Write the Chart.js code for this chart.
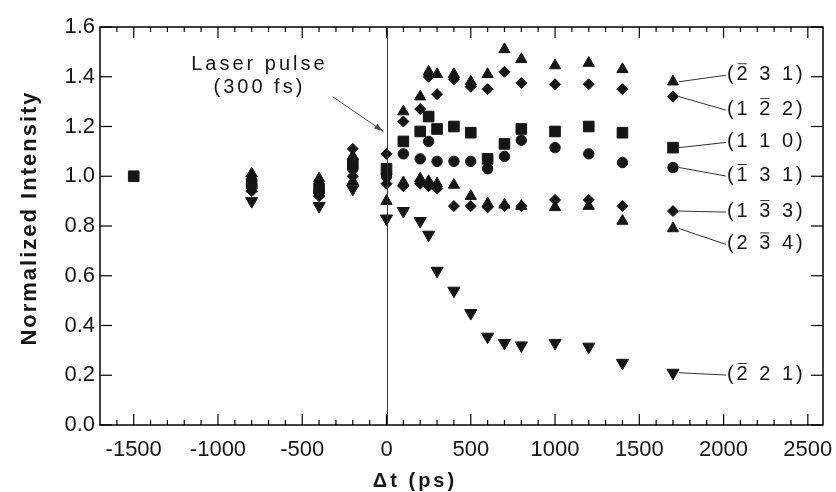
<!DOCTYPE html>
<html>
<head>
<meta charset="utf-8">
<script src="https://cdn.jsdelivr.net/npm/chart.js@4.4.1/dist/chart.umd.min.js"></script>
<style>
  html, body { margin: 0; padding: 0; background: #fff; }
  #wrap { width: 836px; height: 492px; position: relative; }
</style>
</head>
<body>
<div id="wrap"><canvas id="chart"></canvas></div>
<script>
// delay times (ps)
const times = [-1500, -800, -400, -200, 0, 100, 200, 250, 300, 400, 500, 600, 700, 800, 1000, 1200, 1400, 1700];

// normalized intensity per reflection (null = no point)
const r231  = [null, 1.01, 0.99, 1.08, 1.02, 1.26, 1.32, 1.42, 1.41, 1.41, 1.38, 1.41, 1.51, 1.47, 1.445, 1.455, 1.43, 1.38];
const r122  = [null, 1.00, 0.98, 1.11, 1.09, 1.22, 1.27, 1.40, 1.33, 1.39, 1.36, 1.35, 1.42, 1.375, 1.37, 1.37, 1.35, 1.32];
const r110  = [1.00, 0.97, 0.95, 1.05, 1.03, 1.14, 1.18, 1.24, 1.19, 1.20, 1.175, 1.07, 1.13, 1.19, 1.18, 1.20, 1.175, 1.115];
const r131  = [null, 0.96, 0.94, 1.03, 1.00, 1.09, 1.07, 1.14, 1.06, 1.06, 1.06, 1.03, 1.08, 1.145, 1.115, 1.09, 1.055, 1.035];
const r1m33 = [null, 0.94, 0.92, 1.00, 0.97, 0.96, 0.97, 0.96, 0.95, 0.88, 0.88, 0.875, 0.88, 0.88, 0.905, 0.905, 0.88, 0.86];
const r2m34 = [null, 0.95, 0.93, 0.98, 0.90, 0.975, 0.99, 0.98, 0.97, 0.965, 0.92, 0.89, 0.885, 0.88, 0.875, 0.88, 0.82, 0.79];
const r221  = [null, 0.90, 0.88, 0.95, 0.83, 0.86, 0.82, 0.765, 0.62, 0.54, 0.45, 0.355, 0.33, 0.32, 0.33, 0.315, 0.25, 0.21];

// axis range and ticks
const xMin = -1700, xMax = 2590;
const yMin = 0, yMax = 1.6;
const xTicks = [-1500, -1000, -500, 0, 500, 1000, 1500, 2000, 2500];
const yTicks = [0, 0.2, 0.4, 0.6, 0.8, 1.0, 1.2, 1.4, 1.6];
const xMinorStep = 100;

// labels on the right: text, index of the overlined digit, label height
const labelNames = ['(2 3 1)', '(1 2 2)', '(1 1 0)', '(1 3 1)', '(1 3 3)', '(2 3 4)', '(2 2 1)'];
const labelBars  = [1, 3, -1, 1, 3, 3, 1];
const labelY     = [1.41, 1.27, 1.14, 1.005, 0.86, 0.73, 0.205];
const labelX = 2020;

const series = [
  { values: r231,  style: 'triangle', rot: 0,   r: 6.5 },
  { values: r122,  style: 'rectRot',  rot: 0,   r: 5.5 },
  { values: r110,  style: 'rect',     rot: 0,   r: 7.5 },
  { values: r131,  style: 'circle',   rot: 0,   r: 5.2 },
  { values: r1m33, style: 'rectRot',  rot: 0,   r: 5.5 },
  { values: r2m34, style: 'triangle', rot: 0,   r: 6.5 },
  { values: r221,  style: 'triangle', rot: 180, r: 7 }
];

const FONT = '"Liberation Sans", Arial, Helvetica, sans-serif';
const INK = '#151515';
const AXIS = '#000';

function toPoints(vals) {
  const pts = [];
  vals.forEach((v, i) => { if (v !== null) pts.push({ x: times[i], y: v }); });
  return pts;
}

function line(ctx, x1, y1, x2, y2) {
  ctx.beginPath();
  ctx.moveTo(x1, y1);
  ctx.lineTo(x2, y2);
  ctx.stroke();
}

function drawFrame(chart) {
  const { ctx, scales: { x, y } } = chart;
  const L = x.getPixelForValue(xMin), R = x.getPixelForValue(xMax);
  const T = y.getPixelForValue(yMax), B = y.getPixelForValue(yMin);
  ctx.save();
  ctx.strokeStyle = AXIS;
  ctx.lineWidth = 1.5;
  ctx.beginPath();
  ctx.moveTo(L, T);
  ctx.lineTo(R, T);
  ctx.lineTo(R, B);
  ctx.lineTo(L, B);
  ctx.closePath();
  ctx.stroke();
  ctx.lineWidth = 1.2;
  for (let t = -1600; t <= 2500; t += xMinorStep) {
    const px = x.getPixelForValue(t);
    const len = t % 500 === 0 ? 11 : 5;
    line(ctx, px, B, px, B - len);
    line(ctx, px, T, px, T + len);
  }
  yTicks.forEach(v => {
    const py = y.getPixelForValue(v);
    line(ctx, L, py, L + 12, py);
    line(ctx, R, py, R - 12, py);
  });
  // laser pulse line at t = 0
  ctx.lineWidth = 1;
  ctx.strokeStyle = '#333';
  const x0 = Math.round(x.getPixelForValue(0)) + 0.5;
  line(ctx, x0, T, x0, B);
  ctx.restore();
}

function drawNotes(chart) {
  const { ctx, chartArea: a, scales: { x, y } } = chart;
  ctx.save();
  ctx.fillStyle = INK;
  ctx.letterSpacing = '3px';
  ctx.font = '20px ' + FONT;
  ctx.textAlign = 'center';
  ctx.textBaseline = 'middle';
  ctx.fillText('Laser pulse', x.getPixelForValue(-754), y.getPixelForValue(1.449));
  ctx.fillText('(300 fs)', x.getPixelForValue(-754), y.getPixelForValue(1.356));

  const ax1 = x.getPixelForValue(-320), ay1 = y.getPixelForValue(1.32);
  const ax2 = x.getPixelForValue(-18), ay2 = y.getPixelForValue(1.18);
  ctx.lineWidth = 1;
  ctx.strokeStyle = '#555';
  ctx.fillStyle = '#555';
  line(ctx, ax1, ay1, ax2, ay2);
  const ang = Math.atan2(ay2 - ay1, ax2 - ax1);
  ctx.beginPath();
  ctx.moveTo(ax2, ay2);
  ctx.lineTo(ax2 - 10 * Math.cos(ang - 0.3), ay2 - 10 * Math.sin(ang - 0.3));
  ctx.lineTo(ax2 - 10 * Math.cos(ang + 0.3), ay2 - 10 * Math.sin(ang + 0.3));
  ctx.closePath();
  ctx.fill();

  // reflection labels with leader lines
  ctx.strokeStyle = '#333';
  ctx.fillStyle = INK;
  ctx.textAlign = 'left';
  const lx = x.getPixelForValue(labelX);
  const mx = x.getPixelForValue(times[times.length - 1]) + 6;
  series.forEach((s, i) => {
    const my = y.getPixelForValue(s.values[s.values.length - 1]);
    const ly = y.getPixelForValue(labelY[i]);
    line(ctx, mx, my, lx - 1, ly + 1);
    const txt = labelNames[i];
    ctx.fillText(txt, lx, ly);
    const b = labelBars[i];
    if (b >= 0) {
      const off = ctx.measureText(txt.slice(0, b)).width;
      const w = ctx.measureText(txt[b]).width - 3;
      ctx.beginPath();
      ctx.moveTo(lx + off + 1, ly - 10.5);
      ctx.lineTo(lx + off + w - 1, ly - 10.5);
      ctx.stroke();
    }
  });

  // axis titles
  ctx.font = 'bold 20px ' + FONT;
  ctx.textAlign = 'center';
  ctx.fillText('\u0394t (ps)', a.left + 315, 481);
  ctx.translate(30, 218);
  ctx.rotate(-Math.PI / 2);
  ctx.letterSpacing = '2px';
  ctx.font = 'bold 22px ' + FONT;
  ctx.fillText('Normalized Intensity', 0, 0);
  ctx.restore();
}

const decor = {
  id: 'decor',
  afterDraw(chart) {
    drawNotes(chart);
    drawFrame(chart);
  }
};

new Chart(document.getElementById('chart'), {
  type: 'scatter',
  data: {
    datasets: series.map(s => ({
      data: toPoints(s.values),
      pointStyle: s.style,
      pointRotation: s.rot,
      pointRadius: s.r,
      pointHoverRadius: s.r,
      backgroundColor: INK,
      borderColor: INK,
      borderWidth: 1
    }))
  },
  options: {
    responsive: true,
    maintainAspectRatio: false,
    animation: false,
    layout: { padding: { left: 0, right: 13, top: 27, bottom: 0 } },
    plugins: { legend: { display: false }, tooltip: { enabled: false } },
    scales: {
      x: {
        type: 'linear',
        min: xMin,
        max: xMax,
        afterBuildTicks: sc => { sc.ticks = xTicks.map(v => ({ value: v })); },
        afterFit: sc => { sc.height = 67; sc.paddingLeft = 0; sc.paddingRight = 0; },
        grid: { display: false, drawTicks: false },
        border: { display: false },
        ticks: {
          autoSkip: false,
          maxRotation: 0,
          padding: 12,
          color: INK,
          font: { family: FONT, size: 22 },
          callback: v => String(v)
        }
      },
      y: {
        min: yMin,
        max: yMax,
        afterBuildTicks: sc => { sc.ticks = yTicks.map(v => ({ value: v })); },
        afterFit: sc => { sc.width = 100; sc.paddingTop = 0; sc.paddingBottom = 0; },
        grid: { display: false, drawTicks: false },
        border: { display: false },
        ticks: {
          padding: 5,
          color: INK,
          font: { family: FONT, size: 22 },
          callback: v => v.toFixed(1)
        }
      }
    }
  },
  plugins: [decor]
});
</script>
</body>
</html>
